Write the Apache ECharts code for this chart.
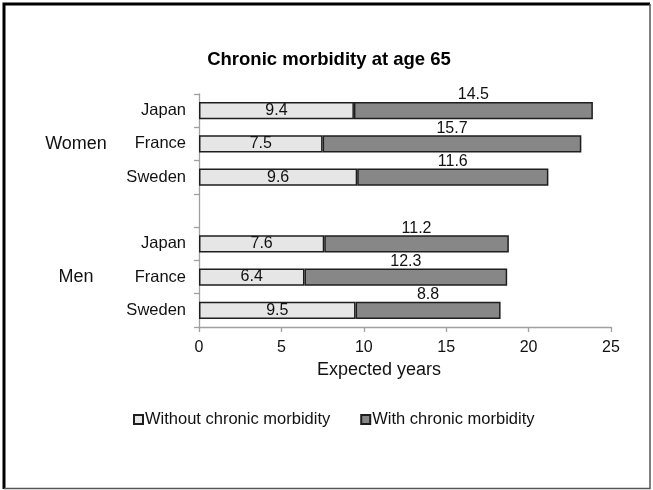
<!DOCTYPE html>
<html>
<head>
<meta charset="utf-8">
<script src="https://cdn.jsdelivr.net/npm/echarts@6/dist/echarts.min.js"></script>
<style>
  html, body { margin: 0; padding: 0; background: #fff; }
  #chart { width: 653px; height: 490px; }
</style>
</head>
<body>
<div id="chart"></div>
<script>
// Healthy life expectancy at 65, split by chronic morbidity status
const groupNames = ['Women', 'Men'];
const countries = ['Japan', 'France', 'Sweden'];
const withoutWomen = [9.4, 7.5, 9.6];
const withWomen = [14.5, 15.7, 11.6];
const withoutMen = [7.6, 6.4, 9.5];
const withMen = [11.2, 12.3, 8.8];
const seriesNames = ['Without chronic morbidity', 'With chronic morbidity'];
const xTicks = [0, 5, 10, 15, 20, 25];

// women block, an empty spacer row, then men block
const categories = countries.concat([''], countries);
const withoutData = withoutWomen.concat(['-'], withoutMen);
const withData = withWomen.concat(['-'], withMen);
// group label sits on the middle row of each block
const groupRow = {1: groupNames[0], 5: groupNames[1]};

const FONT = 'Liberation Sans, Arial, sans-serif';
const chart = echarts.init(document.getElementById('chart'), null, {renderer: 'canvas'});

chart.setOption({
  animation: false,
  backgroundColor: '#fff',
  textStyle: {fontFamily: FONT},
  title: {
    text: 'Chronic morbidity at age 65',
    left: 324, top: 45, textAlign: 'center',
    textStyle: {fontFamily: FONT, fontSize: 18.5, fontWeight: 'bold', color: '#000'}
  },
  legend: {
    data: seriesNames,
    bottom: 57, left: 128,
    itemWidth: 9, itemHeight: 9, itemGap: 30,
    icon: 'rect',
    textStyle: {fontFamily: FONT, fontSize: 16.5, color: '#111', padding: [0, 0, 0, -3]}
  },
  grid: {left: 199, right: 42, top: 94, bottom: 163},
  xAxis: {
    type: 'value',
    min: xTicks[0], max: xTicks[xTicks.length - 1], interval: 5,
    name: 'Expected years',
    nameLocation: 'middle', nameGap: 34,
    nameTextStyle: {fontFamily: FONT, fontSize: 18, color: '#111', padding: [0, 52, 0, 0]},
    axisLine: {show: true, lineStyle: {color: '#a0a0a0', width: 1.3}},
    axisTick: {show: true, length: 5, lineStyle: {color: '#a0a0a0', width: 1.3}},
    axisLabel: {fontFamily: FONT, fontSize: 16, color: '#111', margin: 13},
    splitLine: {show: false}
  },
  yAxis: [{
    type: 'category',
    data: categories,
    inverse: true,
    axisLine: {show: true, lineStyle: {color: '#a0a0a0', width: 1.3}},
    axisTick: {show: true, length: 5, lineStyle: {color: '#a0a0a0', width: 1.3}},
    axisLabel: {fontFamily: FONT, fontSize: 16.5, color: '#111', margin: 13}
  }, {
    type: 'category',
    data: categories,
    inverse: true,
    position: 'left',
    axisLine: {show: false},
    axisTick: {show: false},
    axisLabel: {
      fontFamily: FONT, fontSize: 18, color: '#111',
      align: 'center', margin: 123,
      padding: [0, 0, 5, 0],
      formatter: (v, i) => groupRow[i] || ''
    }
  }],
  series: [{
    name: seriesNames[0],
    type: 'bar',
    stack: 'total',
    data: withoutData,
    barWidth: '52%',
    itemStyle: {color: '#e6e6e6', borderColor: '#1e1e1e', borderWidth: 1.5},
    label: {
      show: true, position: 'inside',
      fontFamily: FONT, fontSize: 16, color: '#111',
      formatter: p => p.value.toFixed(1)
    }
  }, {
    name: seriesNames[1],
    type: 'bar',
    stack: 'total',
    data: withData,
    barWidth: '52%',
    itemStyle: {color: '#878787', borderColor: '#1e1e1e', borderWidth: 1.5},
    label: {
      show: true, position: 'top', distance: -1,
      fontFamily: FONT, fontSize: 16, color: '#111',
      formatter: p => p.value.toFixed(1)
    }
  }],
  graphic: [{
    type: 'polyline',
    shape: {points: [[4, 489], [4, 4], [650, 4]]},
    style: {stroke: '#000', lineWidth: 3, fill: null},
    z: 100
  }, {
    type: 'polyline',
    shape: {points: [[650, 4], [650, 488.5], [4, 488.5]]},
    style: {stroke: '#555', lineWidth: 1.5, fill: null},
    z: 100
  }]
});
</script>
</body>
</html>
